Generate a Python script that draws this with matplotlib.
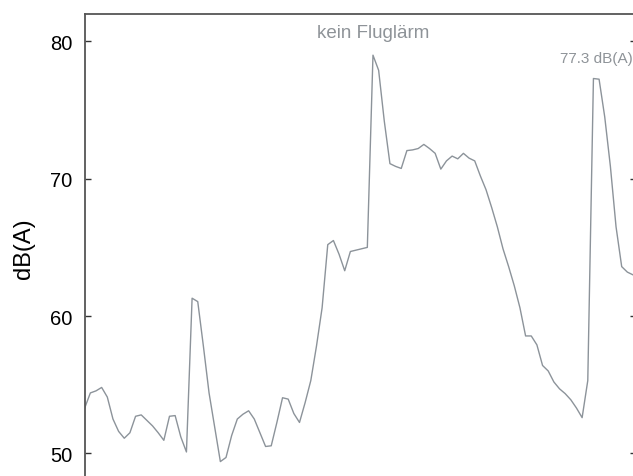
import numpy as np
import matplotlib
matplotlib.use("Agg")
import matplotlib.pyplot as plt

plt.rcParams['font.family'] = ['Liberation Sans', 'DejaVu Sans']

# --- Noise level samples, dB(A) ---
level_db = [
    53.3, 54.4, 54.55, 54.8, 54.1, 52.5, 51.6, 51.1, 51.5, 52.7,
    52.8, 52.4, 52.0, 51.5, 50.95, 52.7, 52.75, 51.2, 50.1, 61.3,
    61.05, 57.8, 54.4, 51.9, 49.4, 49.7, 51.3, 52.5, 52.85, 53.1,
    52.5, 51.5, 50.5, 50.55, 52.25, 54.05, 53.95, 52.9, 52.25, 53.7,
    55.3, 57.8, 60.6, 65.2, 65.5, 64.5, 63.3, 64.7, 64.8, 64.9,
    65.0, 79.0, 77.9, 74.2, 71.1, 70.9, 70.75, 72.05, 72.1, 72.2,
    72.5, 72.2, 71.85, 70.7, 71.3, 71.65, 71.45, 71.85, 71.5, 71.3,
    70.2, 69.2, 67.9, 66.5, 64.9, 63.6, 62.2, 60.6, 58.55, 58.55,
    57.9, 56.4, 56.0, 55.2, 54.7, 54.35, 53.9, 53.3, 52.6, 55.3,
    77.3, 77.25, 74.5, 70.9, 66.5, 63.6, 63.2, 63.0,
]
y_ticks = [50, 60, 70, 80]

# --- Annotations ---
quiet_label = "kein Fluglärm"
quiet_x = 51
peak_label = "77.3 dB(A)"
peak_x = 90.5

LINE_GREY = '#8c939a'
TEXT_GREY = '#8e9398'

fig = plt.figure(figsize=(6.33, 4.77), dpi=100)
ax = fig.add_axes([0.1338, 0.0, 0.8662, 0.9686])

samples = np.arange(len(level_db))
ax.plot(samples, level_db, color=LINE_GREY, linewidth=1.0)

ax.set_xlim(0, len(level_db) - 1)
ax.set_ylim(48.35, 82.0)

# Frame: left and top only
for side in ['bottom', 'right']:
    ax.spines[side].set_visible(False)
for side in ['left', 'top']:
    ax.spines[side].set_color('#555555')
    ax.spines[side].set_linewidth(1.3)

ax.set_xticks([])
ax.set_yticks(y_ticks)
ax.tick_params(axis='y', direction='in', length=4.5, width=1.0,
               color='#333333', labelsize=14.5, pad=9)

# short inward ticks on the right edge
ax_r = ax.twinx()
ax_r.set_ylim(ax.get_ylim())
ax_r.set_yticks(y_ticks)
ax_r.tick_params(axis='y', direction='in', length=2.5, width=1.0,
                 color='#333333', labelright=False)
for side in ax_r.spines:
    ax_r.spines[side].set_visible(False)

ax.set_ylabel("dB(A)", fontsize=17)
ax.yaxis.set_label_coords(-0.091, 0.494)

ax.text(quiet_x, 80.64, quiet_label, ha='center', va='center',
        fontsize=13.5, color=TEXT_GREY)
ax.text(peak_x, 78.82, peak_label, ha='center', va='center',
        fontsize=11, color=TEXT_GREY)

fig.savefig("out.png", dpi=100)
